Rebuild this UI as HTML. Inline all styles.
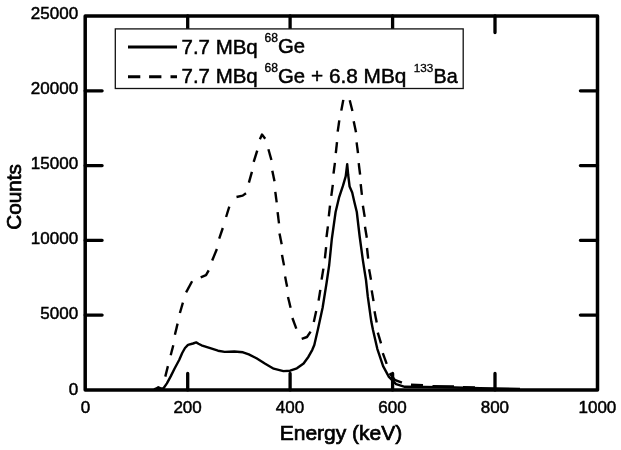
<!DOCTYPE html>
<html lang="en"><head><meta charset="utf-8"><title>Energy spectrum</title>
<style>html,body{margin:0;padding:0;background:#fff}svg{display:block}</style></head>
<body>
<svg width="621" height="450" viewBox="0 0 621 450">
<rect width="621" height="450" fill="#fff"/>
<g fill="none" stroke="#000" stroke-width="2.4" stroke-linejoin="round">
<path d="M154.0 389.3 L156.5 388.4 L158.3 387.2 L160.5 388.4 L163.5 388.2 L166.9 383.4 L170.7 376.4 L174.6 368.5 L179.3 359.8 L182.2 353.0 L185.0 348.0 L188.0 344.9 L193.0 343.5 L196.2 342.4 L198.5 343.7 L201.5 345.3 L210.2 348.2 L218.0 350.7 L224.7 351.9 L234.3 351.5 L243.0 352.3 L248.8 354.4 L256.5 358.3 L265.2 363.8 L273.7 368.7 L283.4 371.1 L290.1 370.7 L296.9 368.3 L303.6 363.5 L308.5 356.7 L312.3 349.8 L314.3 345.0 L318.0 329.0 L322.6 307.7 L326.6 282.8 L329.2 265.0 L331.8 239.1 L335.6 212.0 L339.0 197.7 L343.0 185.7 L345.7 176.3 L347.2 164.2 L348.2 175.0 L349.6 186.5 L352.2 192.5 L354.3 201.7 L356.8 212.0 L358.6 227.5 L359.6 236.0 L362.9 260.4 L364.4 270.0 L366.0 280.0 L367.8 296.7 L371.3 321.6 L373.0 330.0 L377.3 348.8 L383.1 366.1 L388.9 376.9 L396.1 384.2 L404.8 386.8 L425.0 387.0 L455.0 387.5 L480.0 388.2 L520.0 389.0"/>
<path d="M165.3 376.6 L167.9 366.1"/>
<path d="M170.7 355.3 L173.3 345.3"/>
<path d="M174.9 334.8 L177.6 323.6"/>
<path d="M179.9 313.0 L182.9 302.7"/>
<path d="M186.1 292.4 L192.1 281.3"/>
<path d="M200.7 277.4 L206.0 275.1 L208.7 270.3"/>
<path d="M212.2 260.5 L216.9 249.0"/>
<path d="M219.2 238.7 L222.8 228.0"/>
<path d="M226.1 217.0 L229.3 206.7"/>
<path d="M236.5 197.0 L242.7 195.6 L246.0 193.2"/>
<path d="M248.9 182.6 L251.9 171.9"/>
<path d="M253.7 161.8 L257.2 150.6"/>
<path d="M259.9 139.2 L262.0 134.6 L265.2 138.7"/>
<path d="M268.4 149.3 L271.4 160.0"/>
<path d="M272.3 170.7 L274.5 181.3"/>
<path d="M275.3 191.8 L276.7 202.4"/>
<path d="M277.6 212.2 L279.0 223.4"/>
<path d="M279.5 233.6 L281.7 244.2"/>
<path d="M282.0 254.9 L284.0 265.4"/>
<path d="M285.1 276.6 L287.1 286.7"/>
<path d="M288.0 297.0 L290.6 307.7"/>
<path d="M292.4 318.0 L296.3 328.6"/>
<path d="M301.7 338.8 L307.0 337.0 L310.6 331.7"/>
<path d="M313.8 321.9 L316.2 310.9"/>
<path d="M318.6 300.6 L320.3 289.9"/>
<path d="M321.6 279.6 L323.4 268.6"/>
<path d="M324.9 258.4 L326.1 247.2"/>
<path d="M326.5 237.1 L327.9 226.4"/>
<path d="M328.8 216.3 L330.0 205.6"/>
<path d="M331.3 195.8 L332.8 184.8"/>
<path d="M333.5 173.6 L334.9 162.9"/>
<path d="M335.8 153.1 L337.0 142.1"/>
<path d="M337.7 131.7 L339.3 120.3"/>
<path d="M341.3 110.6 L343.3 99.9"/>
<path d="M349.7 100.3 L352.4 111.0"/>
<path d="M353.7 121.3 L356.0 132.3"/>
<path d="M356.6 142.4 L358.0 153.1"/>
<path d="M358.7 163.2 L360.1 174.6"/>
<path d="M360.7 184.2 L361.9 194.9"/>
<path d="M362.9 205.7 L364.7 216.9"/>
<path d="M365.0 226.7 L366.8 237.7"/>
<path d="M367.0 248.0 L368.2 258.7"/>
<path d="M369.1 269.3 L371.0 279.8"/>
<path d="M371.7 290.4 L373.5 301.1"/>
<path d="M374.5 311.2 L376.7 322.4"/>
<path d="M377.8 332.7 L381.0 343.3"/>
<path d="M382.8 353.1 L386.7 363.9"/>
<path d="M389.6 373.3 L394.7 379.8 L401.9 382.7"/>
<path d="M411.0 384.8 L423.0 385.2"/>
<path d="M432.5 386.2 L454.0 386.5"/>
<path d="M463.0 387.3 L475.0 387.5"/>
</g>
<g stroke="#000" stroke-width="3.3" fill="none" stroke-linecap="round">
<path d="M187.7 389.9 V373.4 M187.7 16.0 V32.6"/>
<path d="M290.1 389.9 V373.4 M290.1 16.0 V32.6"/>
<path d="M392.6 389.9 V373.4 M392.6 16.0 V32.6"/>
<path d="M495.0 389.9 V373.4 M495.0 16.0 V32.6"/>
<path d="M85.2 315.1 H102.1 M597.5 315.1 H580.4"/>
<path d="M85.2 240.3 H102.1 M597.5 240.3 H580.4"/>
<path d="M85.2 165.6 H102.1 M597.5 165.6 H580.4"/>
<path d="M85.2 90.8 H102.1 M597.5 90.8 H580.4"/>
</g>
<rect x="85.2" y="16.0" width="512.3" height="373.9" fill="none" stroke="#000" stroke-width="3.5" stroke-linejoin="round"/>
<rect x="115.3" y="28.9" width="347.9" height="59.6" fill="#fff" stroke="#111" stroke-width="1.3"/>
<path d="M128 46.9 H177" stroke="#000" stroke-width="3" fill="none"/>
<path d="M128 76.8 H140.3 M149.1 76.8 H161.4 M170.5 76.8 H177" stroke="#000" stroke-width="3" fill="none"/>
<g font-family="Liberation Sans, Arial, sans-serif" fill="#000" stroke="#000" stroke-width="0.5">
<text x="181.5" y="53.5" textLength="76.2" lengthAdjust="spacingAndGlyphs" font-size="20.8">7.7 MBq</text>
<text x="264.5" y="41.6" font-size="12.1" stroke-width="0.35">68</text>
<text x="278.0" y="53.2" font-size="20.3">Ge</text>
<text x="181.5" y="83.1" textLength="76.2" lengthAdjust="spacingAndGlyphs" font-size="20.8">7.7 MBq</text>
<text x="264.5" y="71.6" font-size="12.1" stroke-width="0.35">68</text>
<text x="278.0" y="82.8" font-size="20.3">Ge</text>
<text x="311.0" y="83.1" font-size="20.8">+ 6.8 MBq</text>
<text x="413.7" y="71.8" font-size="11.7" stroke-width="0.3">133</text>
<text x="433.5" y="83.3" font-size="19.7">Ba</text>
<text x="85.6" y="413.4" font-size="17" text-anchor="middle">0</text>
<text x="187.6" y="413.4" font-size="17" text-anchor="middle">200</text>
<text x="290.0" y="413.4" font-size="17" text-anchor="middle">400</text>
<text x="392.5" y="413.4" font-size="17" text-anchor="middle">600</text>
<text x="494.9" y="413.4" font-size="17" text-anchor="middle">800</text>
<text x="597.4" y="413.4" font-size="17" text-anchor="middle">1000</text>
<text x="78.1" y="394.7" font-size="17" text-anchor="end">0</text>
<text x="78.1" y="319.1" font-size="17" text-anchor="end">5000</text>
<text x="78.1" y="244.4" font-size="17" text-anchor="end">10000</text>
<text x="78.1" y="169.3" font-size="17" text-anchor="end">15000</text>
<text x="78.1" y="94.0" font-size="17" text-anchor="end">20000</text>
<text x="78.1" y="18.8" font-size="17" text-anchor="end">25000</text>
<text x="341" y="439.6" font-size="21" text-anchor="middle" stroke-width="0.7">Energy (keV)</text>
<text transform="translate(21.1 196.9) rotate(-90)" font-size="20.7" text-anchor="middle" stroke-width="0.7">Counts</text>
</g>
</svg>
</body></html>
